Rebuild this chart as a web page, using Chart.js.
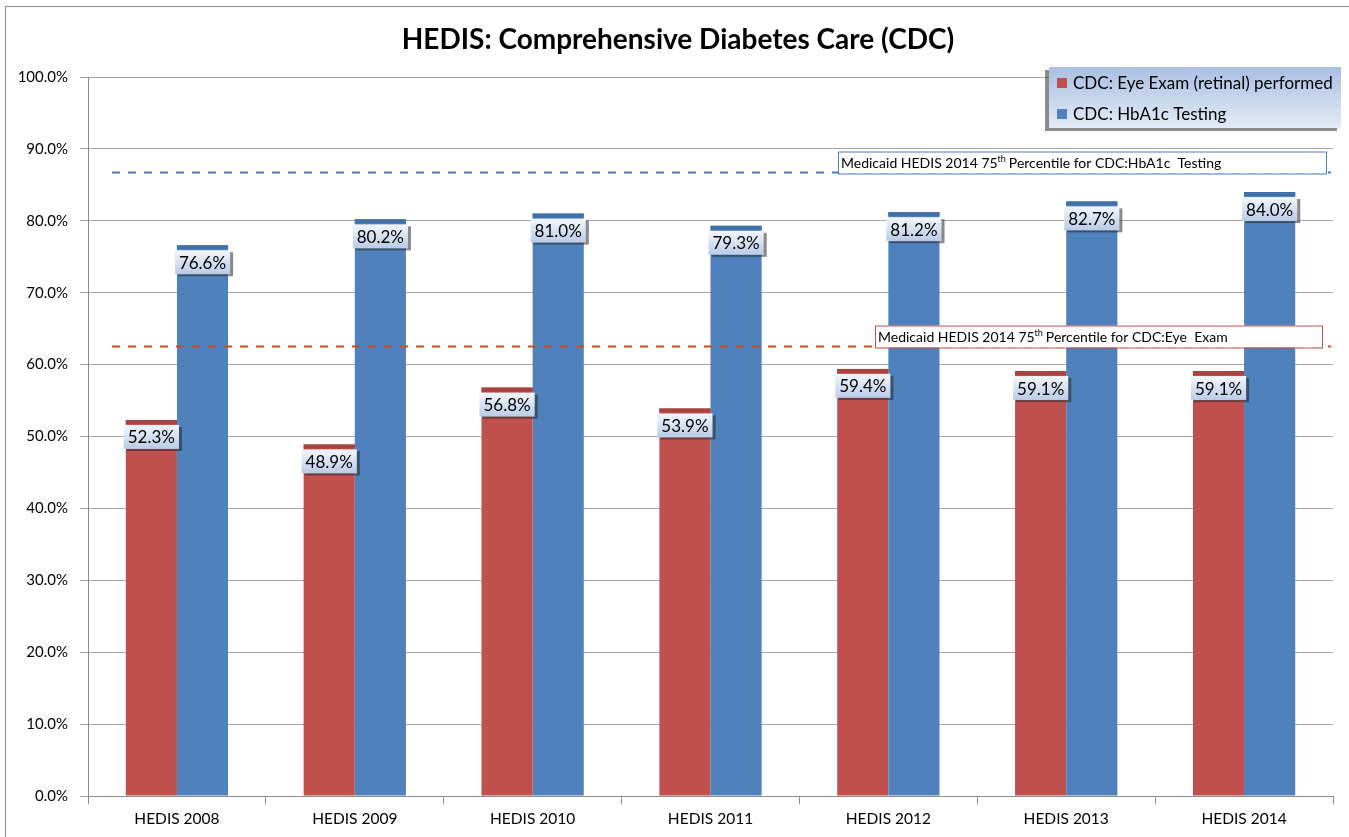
<!DOCTYPE html>
<html>
<head>
<meta charset="utf-8">
<script src="https://cdn.jsdelivr.net/npm/chart.js@4"></script>
<style>
  html, body { margin: 0; padding: 0; background: #fff; }
  #wrap { width: 1349px; height: 837px; position: relative; }
</style>
</head>
<body>
<div id="wrap"><canvas id="chartEl" width="1349" height="837"></canvas></div>
<script>
const FONT = 'Lato, "Liberation Sans", sans-serif'

const years = ['HEDIS 2008', 'HEDIS 2009', 'HEDIS 2010', 'HEDIS 2011', 'HEDIS 2012', 'HEDIS 2013', 'HEDIS 2014']
const eyeExam = [52.3, 48.9, 56.8, 53.9, 59.4, 59.1, 59.1]
const hba1c = [76.6, 80.2, 81.0, 79.3, 81.2, 82.7, 84.0]
const seriesNames = ['CDC: Eye Exam (retinal) performed', 'CDC: HbA1c Testing']
const seriesColors = ['#c0504d', '#4f81bd']
const capColors = ['#a8423f', '#4170a8']

// lignes de référence (75e percentile)
const refHba1c = 86.8
const refEye = 62.6

/* cadre, titre, légende, lignes de référence et étiquettes */
const decorations = {
  id: 'decorations',
  beforeDraw(chart) {
    const ctx = chart.ctx
    ctx.save()
    ctx.strokeStyle = '#8c8c8c'
    ctx.lineWidth = 1
    ctx.strokeRect(5.5, 6.5, 1360, 840)
    ctx.restore()
  },
  afterDatasetsDraw(chart) {
    const ctx = chart.ctx
    const y = chart.scales.y
    const area = chart.chartArea

    // petit bord plus foncé en haut de chaque barre
    chart.data.datasets.forEach((ds, i) => {
      chart.getDatasetMeta(i).data.forEach(bar => {
        ctx.fillStyle = capColors[i]
        ctx.fillRect(bar.x - bar.width / 2, bar.y, bar.width, 4)
      })
    })

    // lignes pointillées
    const drawRef = (val, color) => {
      const py = Math.round(y.getPixelForValue(val)) + 0.5
      ctx.save()
      ctx.strokeStyle = color
      ctx.lineWidth = 2
      ctx.setLineDash([8, 8])
      ctx.beginPath()
      ctx.moveTo(112, py)
      ctx.lineTo(area.right - 2, py)
      ctx.stroke()
      ctx.restore()
      return py
    }
    const pyB = drawRef(refHba1c, '#4a7cc0')
    const pyR = drawRef(refEye, '#d24a1a')

    // boîtes d'annotation
    const drawNote = (x, right, bottomY, color, pre, post) => {
      const h = 22
      ctx.save()
      ctx.fillStyle = '#fff'
      ctx.fillRect(x, bottomY - h, right - x, h)
      ctx.strokeStyle = color
      ctx.lineWidth = 1
      ctx.strokeRect(x + 0.5, bottomY - h + 0.5, right - x, h)
      ctx.fillStyle = '#000'
      ctx.textBaseline = 'alphabetic'
      ctx.font = '14px ' + FONT
      let tx = x + 3
      const ty = bottomY - 6
      ctx.fillText(pre, tx, ty)
      tx += ctx.measureText(pre).width
      ctx.font = '9px ' + FONT
      ctx.fillText('th', tx, ty - 6)
      tx += ctx.measureText('th').width + 3
      ctx.font = '14px ' + FONT
      ctx.fillText(post, tx, ty)
      ctx.restore()
    }
    drawNote(838, 1326, pyB + 1, '#4a7cc0', 'Medicaid HEDIS 2014 75', 'Percentile for CDC:HbA1c  Testing')
    drawNote(875, 1322, pyR + 1, '#c0504d', 'Medicaid HEDIS 2014 75', 'Percentile for CDC:Eye  Exam')

    // étiquettes de valeurs
    chart.data.datasets.forEach((ds, i) => {
      chart.getDatasetMeta(i).data.forEach((bar, j) => {
        const txt = ds.data[j].toFixed(1) + '%'
        ctx.save()
        ctx.font = '17px ' + FONT
        const w = ctx.measureText(txt).width + 8
        const h = 24
        const bx = bar.x - w / 2
        const by = bar.y + 5
        // ombre
        ctx.fillStyle = 'rgba(40,40,40,0.55)'
        ctx.fillRect(bx + 3, by + 2, w, h)
        const g = ctx.createLinearGradient(0, by, 0, by + h)
        g.addColorStop(0, '#f4f7fc')
        g.addColorStop(1, '#b9cbe7')
        ctx.fillStyle = g
        ctx.fillRect(bx, by, w, h)
        ctx.fillStyle = '#000'
        ctx.textAlign = 'center'
        ctx.textBaseline = 'middle'
        ctx.fillText(txt, bar.x, by + h / 2 + 1)
        ctx.restore()
      })
    })
  },
  afterDraw(chart) {
    const ctx = chart.ctx
    // titre
    ctx.save()
    ctx.font = 'bold 28px ' + FONT
    ctx.fillStyle = '#000'
    ctx.textAlign = 'center'
    ctx.textBaseline = 'middle'
    ctx.fillText('HEDIS: Comprehensive Diabetes Care (CDC)', 678, 40)
    ctx.restore()

    // légende
    const lx = 1049, ly = 67, lw = 292, lh = 61
    ctx.save()
    ctx.fillStyle = 'rgba(60,60,60,0.6)'
    ctx.fillRect(lx - 4, ly + 3, lw, lh)
    const g = ctx.createLinearGradient(0, ly, 0, ly + lh)
    g.addColorStop(0, '#a9bfe2')
    g.addColorStop(1, '#e4ebf6')
    ctx.fillStyle = g
    ctx.fillRect(lx, ly, lw, lh)
    ctx.font = '17px ' + FONT
    ctx.textBaseline = 'middle'
    seriesNames.forEach((name, i) => {
      const iy = ly + 16 + i * 31
      ctx.fillStyle = seriesColors[i]
      ctx.fillRect(lx + 8, iy - 5, 10, 10)
      ctx.fillStyle = '#000'
      ctx.fillText(name, lx + 24, iy + 1)
    })
    ctx.restore()
  }
}

new Chart(document.querySelector('#chartEl'), {
  type: 'bar',
  data: {
    labels: years,
    datasets: [
      { label: seriesNames[0], data: eyeExam, backgroundColor: seriesColors[0] },
      { label: seriesNames[1], data: hba1c, backgroundColor: seriesColors[1] }
    ]
  },
  options: {
    responsive: false,
    animation: false,
    layout: { padding: { left: 0, top: 77, right: 16, bottom: 0 } },
    datasets: { bar: { categoryPercentage: 0.575, barPercentage: 1 } },
    plugins: {
      legend: { display: false },
      title: { display: false },
      tooltip: { enabled: false }
    },
    scales: {
      x: {
        afterFit: s => { s.height = 41 },
        grid: { offset: true, drawOnChartArea: false, color: '#8c8c8c', tickLength: 8 },
        border: { color: '#8c8c8c' },
        ticks: { color: '#000', font: { family: FONT, size: 15.5 }, padding: 6 }
      },
      y: {
        min: 0, max: 100,
        afterFit: s => { s.width = 88 },
        grid: { color: '#a6a6a6', tickLength: 8 },
        border: { color: '#8c8c8c' },
        ticks: {
          stepSize: 10, color: '#000', padding: 12,
          font: { family: FONT, size: 15 },
          callback: v => v.toFixed(1) + '%'
        }
      }
    }
  },
  plugins: [decorations]
})
</script>
</body>
</html>
